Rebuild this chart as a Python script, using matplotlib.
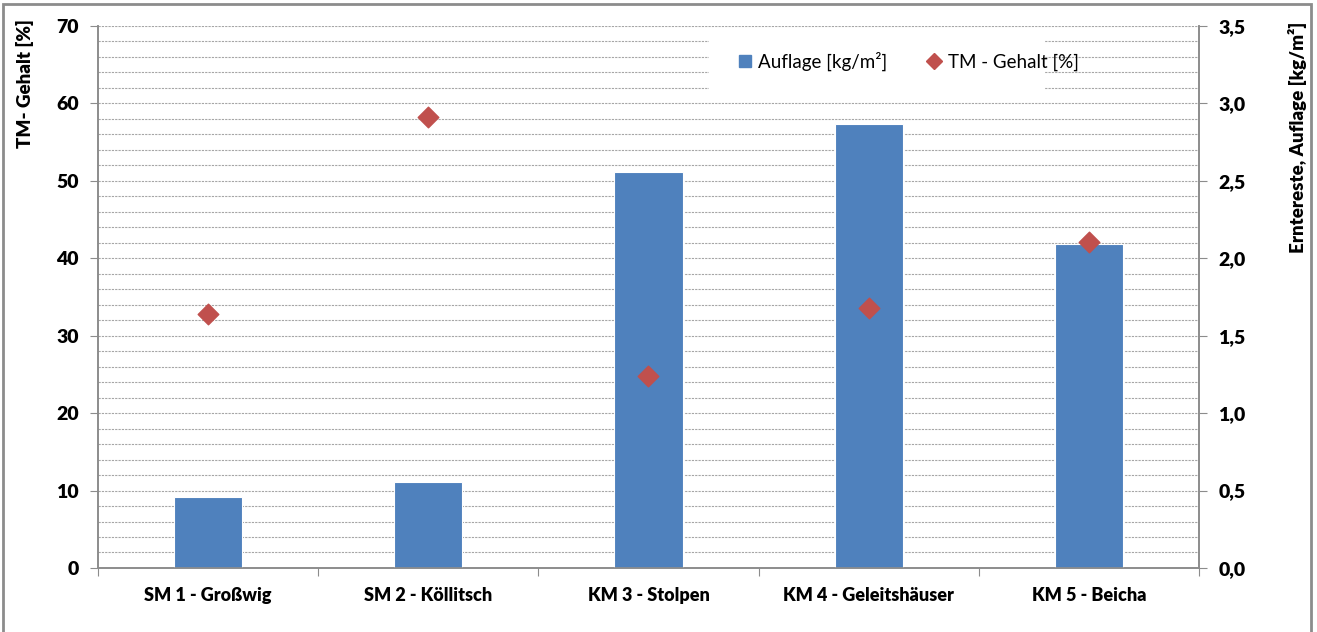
import matplotlib
matplotlib.use('Agg')
import matplotlib.pyplot as plt
from matplotlib.patches import Rectangle
from matplotlib.lines import Line2D
from matplotlib.ticker import MultipleLocator, FuncFormatter

plt.rcParams['font.family'] = ['Lato', 'DejaVu Sans']
plt.rcParams['font.weight'] = 'heavy'
plt.rcParams['axes.labelweight'] = 'heavy'

# Daten
standorte = ['SM 1 - Großwig', 'SM 2 - Köllitsch', 'KM 3 - Stolpen',
             'KM 4 - Geleitshäuser', 'KM 5 - Beicha']
auflage = [0.46, 0.555, 2.56, 2.87, 2.09]      # kg/m² (rechte Achse)
tm_gehalt = [32.8, 58.2, 24.8, 33.6, 42.1]     # % (linke Achse)

blau = '#4f81bd'
rot = '#c0504d'
grau = '#8c8c8c'

fig = plt.figure(figsize=(13.17, 6.32), dpi=100)
ax1 = fig.add_axes([0.0744, 0.1013, 0.836, 0.8576])
ax2 = ax1.twinx()

# ax1 oben (Rauten), ax2 unten (Balken + Gitter)
ax1.set_zorder(ax2.get_zorder() + 1)
ax1.patch.set_visible(False)

x = range(len(standorte))
ax2.bar(x, auflage, width=0.31, color=blau, edgecolor='white', linewidth=0.8, zorder=3)
ax1.scatter(x, tm_gehalt, marker='D', s=110, color=rot, zorder=4, clip_on=False)

ax1.set_xlim(-0.5, len(standorte) - 0.5)
ax1.set_ylim(0, 70)
ax2.set_ylim(0, 3.5)

# Gitter auf der rechten Achse (alle 0,1 = 2 %)
ax2.yaxis.set_major_locator(MultipleLocator(0.5))
ax2.yaxis.set_minor_locator(MultipleLocator(0.1))
ax2.set_axisbelow(True)
ax2.grid(which='both', axis='y', color='#a6a6a6', linestyle=(0, (2, 1)), linewidth=0.8)
ax2.yaxis.set_major_formatter(FuncFormatter(lambda v, p: f'{v:.1f}'.replace('.', ',')))

# weißer Hintergrund hinter der Legende
ax2.add_patch(Rectangle((0.555, 0.865), 0.305, 0.13, transform=ax2.transAxes,
                        facecolor='white', edgecolor='none', zorder=2))

ax1.yaxis.set_major_locator(MultipleLocator(10))

# x-Achse: Striche zwischen den Kategorien
ax1.set_xticks([i - 0.5 for i in range(len(standorte) + 1)])
ax1.set_xticklabels([])
ax1.set_xticks(list(x), minor=True)
ax1.set_xticklabels(standorte, minor=True, fontsize=13)
ax1.tick_params(axis='x', which='major', length=6, color=grau, direction='out')
ax1.tick_params(axis='x', which='minor', length=0, pad=14)

ax1.tick_params(axis='y', which='major', length=6, color=grau, labelsize=14, pad=8)
ax2.tick_params(axis='y', which='major', length=6, color=grau, labelsize=14, pad=8)
ax2.tick_params(axis='y', which='minor', length=0)

for ax in (ax1, ax2):
    ax.spines['top'].set_visible(False)
    for s in ('left', 'right', 'bottom'):
        ax.spines[s].set_color(grau)
        ax.spines[s].set_linewidth(1.2)

ax1.set_ylabel('TM- Gehalt [%]', fontsize=13.5)
ax1.yaxis.set_label_coords(-0.058, 0.893)
ax2.set_ylabel('Erntereste, Auflage [kg/m²]', fontsize=13.5)
ax2.yaxis.set_label_coords(1.081, 0.795)

handles = [Line2D([], [], marker='s', linestyle='none', color=blau, markersize=9),
           Line2D([], [], marker='D', linestyle='none', color=rot, markersize=8)]
ax1.legend(handles, ['Auflage [kg/m²]', 'TM - Gehalt [%]'], ncol=2, frameon=False,
           loc='center', bbox_to_anchor=(0.735, 0.935),
           prop={'size': 13.5, 'weight': 'normal'},
           handletextpad=0.2, columnspacing=2.0, handlelength=1.0)

# Rahmen um die Grafik
fig.patches.append(Rectangle((3 / 1317, -0.1), 1308 / 1317, 1.1 - 4 / 632,
                             transform=fig.transFigure, facecolor='none',
                             edgecolor=grau, linewidth=2, zorder=0))

fig.savefig('out.png', dpi=100, facecolor='white')
